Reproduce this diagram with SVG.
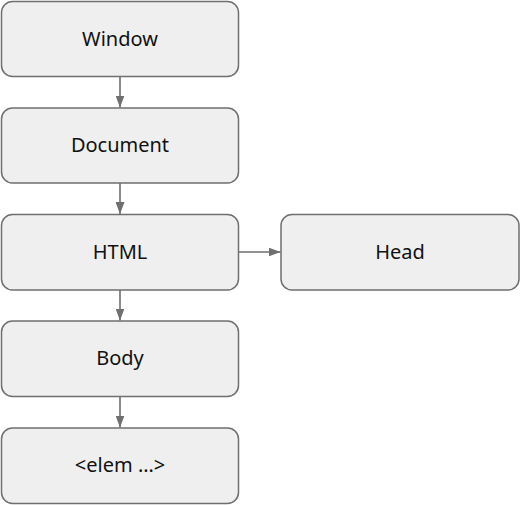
<svg xmlns="http://www.w3.org/2000/svg" width="521" height="506" viewBox="0 0 521 506">
<defs>
<style>
.box{fill:#efefef;stroke:#6f6f6f;stroke-width:1.5}
.lbl{font-family:"Noto Sans","Open Sans",sans-serif;font-size:20px;fill:#111;text-anchor:middle}
.edge{stroke:#6f6f6f;stroke-width:1.6;fill:none}
</style>
<marker id="arr" viewBox="0 0 10 10" refX="10" refY="5" markerWidth="12" markerHeight="9" markerUnits="userSpaceOnUse" orient="auto" preserveAspectRatio="none">
<path d="M0,0 L10,5 L0,10 z" fill="#6f6f6f"/>
</marker>
</defs>
<rect width="521" height="506" fill="#ffffff"/>
<g id="connectors">
<line class="edge" x1="120" y1="76.5" x2="120" y2="107.5" marker-end="url(#arr)"/>
<line class="edge" x1="120" y1="183" x2="120" y2="214" marker-end="url(#arr)"/>
<line class="edge" x1="120" y1="290" x2="120" y2="320.5" marker-end="url(#arr)"/>
<line class="edge" x1="120" y1="396.5" x2="120" y2="427.5" marker-end="url(#arr)"/>
<line class="edge" x1="238.5" y1="252" x2="280.5" y2="252" marker-end="url(#arr)"/>
</g>
<g id="window"><rect class="box" x="1.5" y="1.5" width="237" height="75" rx="11"/><text class="lbl" x="120" y="45.5">Window</text></g>
<g id="document"><rect class="box" x="1.5" y="108" width="237" height="75" rx="11"/><text class="lbl" x="120" y="152">Document</text></g>
<g id="html"><rect class="box" x="1.5" y="214.5" width="237" height="75.5" rx="11"/><text class="lbl" x="120" y="258.5">HTML</text></g>
<g id="head"><rect class="box" x="281" y="214.5" width="238" height="75.5" rx="11"/><text class="lbl" x="400" y="258.5">Head</text></g>
<g id="body"><rect class="box" x="1.5" y="321" width="237" height="75.5" rx="11"/><text class="lbl" x="120" y="365">Body</text></g>
<g id="elem"><rect class="box" x="1.5" y="428" width="237" height="75.5" rx="11"/><text class="lbl" x="120" y="472">&lt;elem …&gt;</text></g>
</svg>
